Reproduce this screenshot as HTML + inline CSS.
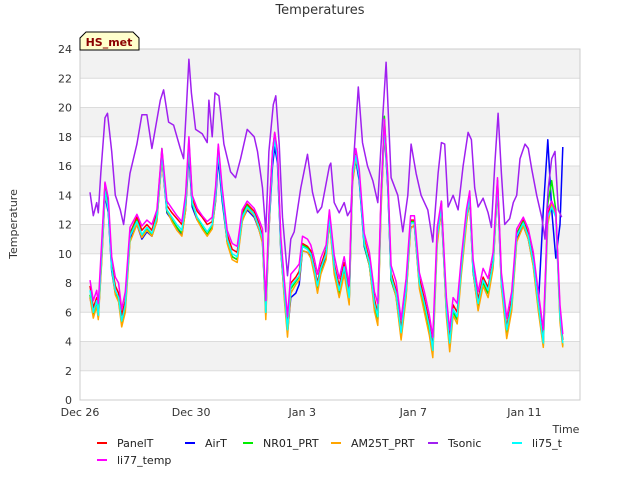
<!DOCTYPE html>
<html><head><meta charset="utf-8"><style>
body{margin:0;background:#fff;font-family:"Liberation Sans",sans-serif;}
svg text{font-family:"DejaVu Sans","Liberation Sans",sans-serif;}
</style></head><body>
<svg id="chart" width="640" height="480" xmlns="http://www.w3.org/2000/svg">
<text x="320" y="14" text-anchor="middle" font-size="13" fill="#333">Temperatures</text>
<g id="bands"></g>
<g id="grid"></g>
<g id="series"></g>
<rect x="80" y="49" width="500" height="351" fill="none" stroke="#ccc"/>
<g id="yticks"></g><g id="xticks"></g>
<text transform="translate(17,224) rotate(-90)" text-anchor="middle" font-size="11" fill="#333">Temperature</text>
<text x="566" y="433" text-anchor="middle" font-size="11" fill="#333">Time</text>
<g>
<path d="M80,50 L80,38 L86,32 L133,32 L139,38 L139,50 Z" fill="#ffffcc" stroke="#000" stroke-width="1"/>
<text x="109" y="46" text-anchor="middle" font-size="11" font-weight="bold" fill="#8b0000">HS_met</text>
</g>
<g id="legend"></g>
</svg>
<script>
const yTicks=[0,2,4,6,8,10,12,14,16,18,20,22,24];
const xTickLabels=["Dec 26","Dec 30","Jan 3","Jan 7","Jan 11"];
const xTickDays=[0,4,8,12,16];
const tsonicT=[0.36,0.48,0.6,0.66,0.75,0.9,0.99,1.14,1.27,1.45,1.57,1.8,2.05,2.23,2.41,2.59,2.89,3.01,3.19,3.37,3.61,3.73,3.83,3.92,4.01,4.16,4.4,4.58,4.64,4.76,4.86,5.0,5.18,5.42,5.6,5.78,6.02,6.27,6.39,6.57,6.69,6.8,6.96,7.05,7.17,7.29,7.47,7.59,7.71,7.95,8.19,8.37,8.55,8.7,8.98,9.03,9.15,9.33,9.51,9.63,9.75,9.87,10.02,10.17,10.35,10.54,10.72,10.84,11.02,11.2,11.44,11.62,11.8,11.92,12.1,12.28,12.52,12.7,12.89,13.01,13.13,13.25,13.43,13.61,13.79,13.97,14.09,14.21,14.33,14.51,14.69,14.81,14.93,15.05,15.17,15.29,15.47,15.6,15.72,15.84,16.02,16.14,16.26,16.44,16.62,16.74,16.86,16.98,17.1,17.22,17.34];
const tsonic=[14.2,12.6,13.5,12.8,15.5,19.3,19.6,17,14,13,12.0,15.5,17.5,19.5,19.5,17.2,20.5,21.2,19.0,18.8,17.2,16.5,20,23.3,21,18.5,18.2,17.6,20.5,18,21,20.8,17.5,15.6,15.2,16.5,18.5,18,17,14.5,11.5,17,20.2,20.8,17.5,12.5,8.5,11.0,11.5,14.5,16.8,14.2,12.8,13.2,16.0,16.2,13.5,12.8,13.5,12.6,13.0,17,21.4,17.6,16,15,13.5,17.5,23.1,15.2,14,11.5,14,17.5,15.5,14,13,10.8,15.5,17.6,17.5,13.2,14,13,16,18.3,17.8,14.5,13.2,13.8,12.8,11.8,16,19.6,15.5,12,12.4,13.5,14,16.5,17.5,17.2,15.8,14,12.5,11,14.5,16.5,17,13,12.5];
const baseT=[0.36,0.48,0.6,0.66,0.78,0.9,1.02,1.14,1.27,1.39,1.5,1.63,1.8,2.05,2.23,2.41,2.59,2.77,2.95,3.13,3.31,3.49,3.67,3.8,3.92,4.04,4.22,4.4,4.58,4.76,4.88,4.98,5.12,5.3,5.48,5.66,5.84,6.02,6.27,6.45,6.57,6.69,6.8,6.93,7.01,7.11,7.23,7.35,7.47,7.59,7.77,7.89,8.01,8.19,8.31,8.43,8.55,8.67,8.86,8.98,9.03,9.15,9.33,9.51,9.69,9.81,9.93,10.05,10.23,10.42,10.6,10.72,10.84,10.96,11.08,11.2,11.38,11.56,11.74,11.9,12.04,12.22,12.4,12.58,12.7,12.86,13.01,13.19,13.31,13.43,13.58,13.73,13.91,14.03,14.15,14.33,14.51,14.69,14.87,15.03,15.17,15.36,15.54,15.72,15.96,16.14,16.32,16.5,16.68,16.84,16.98,17.13,17.28,17.38];
const panelT=[7.8,6.3,7.0,6.0,10.3,14.8,13.3,9.3,7.8,7.3,5.8,6.8,11.4,12.5,11.6,12.0,11.6,12.8,17.0,13.3,12.8,12.4,12.0,13.8,17.6,13.8,12.9,12.5,12.0,12.2,14.3,17.2,14.2,11.3,10.3,10.1,12.8,13.4,12.9,12.0,11.2,6.3,12.4,16.8,18.0,16.6,10.8,7.8,5.0,8.0,8.4,8.8,10.7,10.5,10.2,9.2,8.0,9.2,10.3,12.8,11.8,9.3,7.8,9.4,7.3,15.5,16.9,15.5,11.0,9.6,6.9,5.9,13.9,18.9,15.0,8.7,7.5,4.9,7.8,12.3,12.3,8.3,6.9,5.3,3.6,11.4,13.4,6.5,4.2,6.5,6.0,9.3,12.7,14.1,9.1,6.9,8.4,7.7,9.6,15.0,8.3,5.0,6.9,11.4,12.3,11.4,9.6,6.9,4.1,12.7,13.4,12.7,6.0,4.1];
const airT=[7.0,5.9,6.6,5.7,9.6,14.0,12.8,8.8,7.3,6.8,5.3,6.3,11.0,12.0,11.0,11.5,11.2,12.3,16.5,12.8,12.3,11.8,11.3,13.0,16.8,13.2,12.3,11.8,11.3,11.8,13.6,16.5,13.6,10.8,9.8,9.6,12.3,13.0,12.5,11.6,10.8,5.9,11.6,16.0,17.3,16.2,10.2,7.2,4.6,7.0,7.3,7.9,10.2,10.1,9.8,8.8,7.6,8.8,9.8,12.2,11.3,8.9,7.3,8.9,6.8,15.0,16.4,15.0,10.5,9.2,6.4,5.5,13.4,18.4,14.5,8.2,7.1,4.3,7.2,11.8,11.9,7.8,6.4,4.8,3.5,11.0,12.9,6.0,3.8,6.0,5.5,8.9,12.2,13.6,8.7,6.3,7.9,7.3,9.2,14.5,7.8,4.7,6.4,11.0,11.9,11.0,9.2,6.4,13.0,17.8,13.0,9.7,12.0,17.3];
const nr01=[7.2,5.8,6.7,5.6,10.1,14.6,13.1,9.1,7.4,6.8,5.3,6.4,11.3,12.3,11.2,11.7,11.3,12.6,17.2,12.9,12.3,11.8,11.4,13.4,17.8,13.4,12.4,11.8,11.3,11.9,14.1,17.3,13.9,10.8,9.8,9.6,12.6,13.3,12.7,11.7,10.9,5.8,12.2,17.0,18.2,16.7,10.4,7.3,4.6,7.6,8.1,8.4,10.6,10.4,10.0,8.9,7.6,8.9,10.0,12.6,11.4,8.9,7.3,9.0,6.8,15.4,17.0,15.4,10.6,9.2,6.4,5.5,13.8,19.4,14.9,8.2,7.1,4.4,7.3,12.2,12.2,7.9,6.4,4.8,3.3,11.3,13.6,6.0,3.7,6.0,5.5,9.0,12.7,14.0,8.8,6.4,8.0,7.3,9.3,15.0,7.9,4.6,6.4,11.3,12.2,11.2,9.3,6.3,3.7,13.4,15.0,13.0,5.5,3.7];
const am25t=[7.0,5.6,6.4,5.5,9.4,14.0,13.2,9.0,7.2,6.7,5.0,6.0,10.8,12.0,11.1,11.6,11.2,12.2,16.5,13.0,12.2,11.6,11.2,13.0,17.4,13.6,12.3,11.7,11.2,11.7,13.7,17.4,14.2,10.7,9.6,9.4,12.2,13.1,12.6,11.6,10.7,5.5,11.5,16.8,18.3,16.9,10.4,7.0,4.3,7.3,7.9,8.2,10.2,10.1,9.7,8.6,7.3,8.6,9.6,12.2,11.2,8.6,7.0,8.6,6.5,14.8,16.5,15.4,10.9,9.2,6.1,5.1,13.0,18.4,15.0,8.5,7.0,4.1,7.0,11.7,12.0,7.6,6.0,4.4,2.9,10.6,13.1,5.7,3.3,5.8,5.2,8.6,12.0,13.8,8.8,6.1,7.8,7.0,9.0,14.6,7.7,4.2,6.1,10.8,11.9,11.0,9.1,6.1,3.6,12.0,13.4,12.6,5.3,3.6];
const li75=[7.5,6.0,6.8,5.8,10,14.3,13,9,7.5,7.0,5.4,6.5,11.2,12.2,11.3,11.8,11.4,12.5,16.8,13.0,12.5,12.0,11.6,13.5,17.5,13.5,12.5,12.0,11.5,12.0,14,17,14.0,11.0,10.0,9.8,12.5,13.2,12.7,11.8,11.0,6.0,12,16.5,17.8,16.5,10.5,7.5,4.8,7.8,8.2,8.5,10.5,10.3,10.0,9.0,7.8,9.0,10.0,12.5,11.5,9.1,7.5,9.1,7.0,15.3,16.7,15.3,10.7,9.4,6.6,5.7,13.7,18.7,14.8,8.4,7.3,4.6,7.5,12.1,12.1,8.0,6.6,5.0,3.4,11.2,13.2,6.2,3.9,6.2,5.7,9.1,12.5,13.9,8.9,6.6,8.2,7.5,9.4,14.8,8.0,4.8,6.6,11.2,12.1,11.2,9.4,6.6,3.9,12.5,13.2,12.5,5.7,3.9];
const li77=[8.2,6.8,7.5,6.6,10.8,14.9,13.8,9.8,8.4,8.0,6.2,7.4,11.8,12.7,11.9,12.3,12.0,13.0,17.2,13.6,13.1,12.6,12.2,14.1,18.0,14.0,13.1,12.6,12.2,12.5,14.6,17.5,14.5,11.6,10.7,10.5,13.0,13.6,13.1,12.3,11.7,6.8,12.7,17.0,18.3,17.0,11.2,8.3,5.7,8.6,9.0,9.3,11.2,11.0,10.6,9.7,8.6,9.7,10.6,13.0,12.1,9.9,8.3,9.8,7.8,15.8,17.2,15.8,11.4,10.1,7.4,6.6,14.2,19.2,15.3,9.2,8.1,5.5,8.3,12.6,12.6,8.7,7.4,5.8,4.3,11.8,13.6,7.0,4.8,7.0,6.6,9.8,13.0,14.3,9.6,7.4,9.0,8.3,10.1,15.2,8.7,5.6,7.4,11.7,12.5,11.7,10.1,7.4,4.8,13.0,13.6,12.9,6.5,4.5];
const seriesNames=["PanelT","AirT","NR01_PRT","AM25T_PRT","Tsonic","li75_t","li77_temp"];
const seriesColors=["#ff0000","#0000ff","#00ee00","#ffa500","#a020f0","#00ffff","#ff00ff"];
const seriesVals=[panelT,airT,nr01,am25t,tsonic,li75,li77];
const seriesTimes=[baseT,baseT,baseT,baseT,tsonicT,baseT,baseT];

const NS="http://www.w3.org/2000/svg";
const X0=80,X1=580,Y0=400,Y1=49,DMAX=18,VMAX=24;
const xs=d=>X0+d*(X1-X0)/DMAX;
const ys=v=>Y0-v*(Y0-Y1)/VMAX;
function mk(tag,attrs,parent){const e=document.createElementNS(NS,tag);for(const k in attrs)e.setAttribute(k,attrs[k]);parent.appendChild(e);return e;}
const bands=document.getElementById('bands'),grid=document.getElementById('grid');
for(let v=2;v<24;v+=4){
 const r=mk('rect',{x:X0,y:ys(v+2),width:X1-X0,height:ys(v)-ys(v+2),fill:'#f2f2f2'},bands);
 
 
}
const yt=document.getElementById('yticks');
yTicks.forEach(v=>{
 const l=mk('line',{x1:X0,x2:X1,y1:ys(v),y2:ys(v),stroke:'#dcdcdc','stroke-width':1},grid);
 
 
 const t=mk('text',{x:72,y:ys(v)+4,'text-anchor':'end','font-size':11,fill:'#333'},yt);
 t.textContent=v;
 
 
});
const xt=document.getElementById('xticks');
xTickDays.forEach((d,i)=>{
 const t=mk('text',{x:xs(d),y:416,'text-anchor':'middle','font-size':11,fill:'#333'},xt);
 t.textContent=xTickLabels[i];
 
 
});
const sg=document.getElementById('series');
seriesVals.forEach((vals,i)=>{
 const tt=seriesTimes[i];
 const pts=vals.map((v,j)=>xs(tt[j]).toFixed(1)+','+ys(v).toFixed(1)).join(' ');
 const p=mk('polyline',{points:pts,fill:'none',stroke:seriesColors[i],'stroke-width':1.5,'stroke-linejoin':'round'},sg);
 
 
});
const lg=document.getElementById('legend');
const legPos=[[97,443],[185,443],[243,443],[331,443],[428,443],[512,443],[97,460]];
seriesNames.forEach((n,i)=>{
 const [x,y]=legPos[i];
 const g=mk('g',{},lg);
 
 
 mk('line',{x1:x,x2:x+10,y1:y,y2:y,stroke:seriesColors[i],'stroke-width':2},g);
 const t=mk('text',{x:x+20,y:y+4,'font-size':11,fill:'#222'},g);
 t.textContent=n;
});
</script>
</body></html>
